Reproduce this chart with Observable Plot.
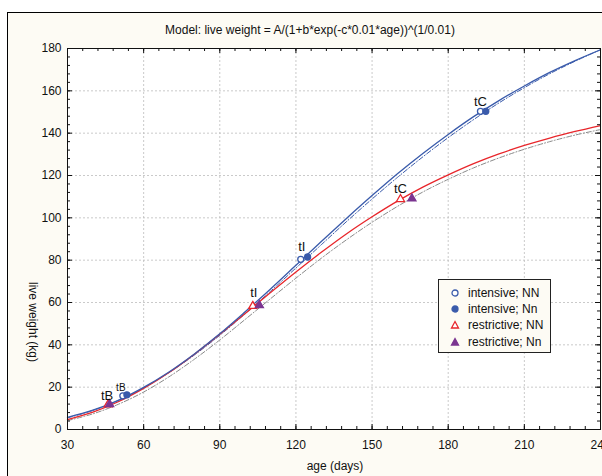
<!DOCTYPE html>
<html><head><meta charset="utf-8">
<script src="https://cdn.jsdelivr.net/npm/d3@7"></script>
<script src="https://cdn.jsdelivr.net/npm/@observablehq/plot@0.6"></script>
<style>
body{margin:0;background:#fff;font-family:"Liberation Sans",Arial,sans-serif;}
#wrap{position:relative;width:602px;height:476px;overflow:hidden;}
#panel{position:absolute;left:7px;top:12px;width:640px;height:500px;border:1px solid #000;background:#fdfbf4;box-sizing:border-box;}
#chart{position:absolute;left:0;top:0;}
.lab{position:absolute;font-size:12px;color:#111;white-space:nowrap;transform:translate(-50%,-50%);}
#legend{position:absolute;left:438px;top:279px;width:113px;height:74px;border:1px solid #222;background:#fdfbf4;box-sizing:border-box;font-size:12px;color:#111;}
#legend .row{position:absolute;left:0;width:110px;height:16px;line-height:16px;white-space:nowrap;}
#legend svg{position:absolute;left:11px;top:3px;}
#legend span{position:absolute;left:29px;top:0;white-space:nowrap;}
</style></head>
<body>
<div id="wrap">
  <div id="panel"></div>
  <div id="chart"></div>
  <div class="lab" id="title" style="left:310px;top:30px;">Model: live weight = A/(1+b*exp(-c*0.01*age))^(1/0.01)</div>
  <div class="lab" style="left:335px;top:466px;">age (days)</div>
  <div class="lab" style="left:33px;top:322px;transform:translate(-50%,-50%) rotate(90deg);">live weight (kg)</div>
  <div id="legend"></div>
</div>
<script>
// ---- data ----
const ages = [30,40,50,60,70,80,90,100,110,120,130,140,150,160,170,180,190,200,210,220,230,240];
const intensiveNN  = [5.7,9.1,13.8,19.9,27.2,35.7,45.2,55.6,66.4,77.6,88.8,99.8,110.5,120.8,130.4,139.4,147.8,155.4,162.3,168.7,174.3,179.4];
const intensiveNn  = [5.5,9.0,13.7,19.7,26.9,35.2,44.5,54.7,65.3,76.3,87.3,98.3,108.9,119.1,128.8,137.9,146.4,154.3,161.5,168.1,174.0,179.4];
const restrictiveNN= [4.7,8.2,13.1,19.4,26.9,35.6,45.0,54.8,64.7,74.4,83.7,92.5,100.5,107.9,114.5,120.3,125.6,130.2,134.2,137.7,140.8,143.6];
const restrictiveNn= [4.2,7.4,11.9,17.7,24.9,33.2,42.3,52.0,61.8,71.5,80.9,89.7,97.9,105.4,112.2,118.2,123.6,128.3,132.4,136.0,139.1,141.7];

const groups = ["intensive; NN","intensive; Nn","restrictive; NN","restrictive; Nn"];
const tbAge = [51.8, 53.4, 46.0, 46.6];
const tbWeight = [15.9, 16.4, 11.8, 11.9];
const tiAge = [121.9, 124.6, 103.0, 105.6];
const tiWeight = [80.4, 81.5, 58.3, 58.7];
const tcAge = [192.7, 194.8, 161.2, 165.7];
const tcWeight = [150.3, 150.3, 108.8, 109.1];

const xTicks = [30,60,90,120,150,180,210,240];
const yTicks = [0,20,40,60,80,100,120,140,160,180];

// ---- styles ----
const BLUE = "#3a5bab", RED = "#e8262b", PURPLE = "#7b3590", GRAY = "#8a8a8a";
const seriesStyle = {
  "intensive; NN":   {stroke: BLUE, dash: null, width: 1.3},
  "intensive; Nn":   {stroke: BLUE, dash: "5,2,1,2", width: 1},
  "restrictive; NN": {stroke: RED, dash: null, width: 1.3},
  "restrictive; Nn": {stroke: GRAY, dash: "5,2,1,2", width: 1}
};
const pointStyle = {
  "intensive; NN":   {symbol: "circle", fill: "white", stroke: BLUE},
  "intensive; Nn":   {symbol: "circle", fill: BLUE, stroke: BLUE},
  "restrictive; NN": {symbol: "triangle", fill: "white", stroke: RED},
  "restrictive; Nn": {symbol: "triangle", fill: PURPLE, stroke: PURPLE}
};

const seriesValues = [intensiveNN, intensiveNn, restrictiveNN, restrictiveNn];
const lineData = groups.flatMap((g, i) => ages.map((a, j) => ({group: g, age: a, w: seriesValues[i][j]})));
const pts = [];
groups.forEach((g, i) => {
  pts.push({group: g, kind: "tB", age: tbAge[i], w: tbWeight[i]});
  pts.push({group: g, kind: "tI", age: tiAge[i], w: tiWeight[i]});
  pts.push({group: g, kind: "tC", age: tcAge[i], w: tcWeight[i]});
});
const labels = [
  {age: tbAge[0], w: tbWeight[0], text: "tB", size: 10, dx: -2, dy: -8},
  {age: tbAge[2], w: tbWeight[2], text: "tB", size: 13, dx: -1, dy: -9},
  {age: tiAge[0], w: tiWeight[0], text: "tI", size: 13, dx: 1, dy: -12},
  {age: tiAge[2], w: tiWeight[2], text: "tI", size: 13, dx: 1, dy: -13},
  {age: tcAge[0], w: tcWeight[0], text: "tC", size: 13, dx: 0, dy: -10},
  {age: tcAge[2], w: tcWeight[2], text: "tC", size: 13, dx: 0, dy: -10}
];

const xMinor = d3.range(30, 240.001, 6);
const yMinor = d3.range(0, 180.001, 4);
const xGrid = xTicks.slice(1, -1);
const yGrid = yTicks.slice(1, -1);
const FH = 476 - 48 - 47, FW = 602 - 67 - 2;

const marks = [
  Plot.frame({fill: "white", stroke: null}),
  Plot.ruleX(xGrid, {x: d => d, stroke: "#bcbcbc", strokeDasharray: "2,2", strokeWidth: 0.8}),
  Plot.ruleY(yGrid, {y: d => d, stroke: "#bcbcbc", strokeDasharray: "2,2", strokeWidth: 0.8}),
];
["restrictive; Nn","intensive; Nn","restrictive; NN","intensive; NN"].forEach(g => {
  const s = seriesStyle[g];
  marks.push(Plot.line(lineData.filter(d => d.group === g), {x: "age", y: "w", stroke: s.stroke, strokeWidth: s.width, strokeDasharray: s.dash, curve: "catmull-rom"}));
});
groups.forEach(g => {
  const s = pointStyle[g];
  marks.push(Plot.dot(pts.filter(d => d.group === g), {x: "age", y: "w", symbol: s.symbol, r: 3, fill: s.fill, stroke: s.stroke, strokeWidth: 1.3}));
});
labels.forEach(l => {
  marks.push(Plot.text([l], {x: "age", y: "w", text: "text", fontSize: l.size, dx: l.dx, dy: l.dy, fill: "#111", fontFamily: "Liberation Sans, Arial, sans-serif"}));
});
marks.push(
  Plot.tickX(xMinor, {x: d => d, insetTop: FH - 3, stroke: "#111"}),
  Plot.tickX(xTicks, {x: d => d, insetTop: FH - 5, stroke: "#111"}),
  Plot.tickX(xMinor, {x: d => d, insetBottom: FH - 3, stroke: "#111"}),
  Plot.tickX(xTicks, {x: d => d, insetBottom: FH - 5, stroke: "#111"}),
  Plot.tickY(yMinor, {y: d => d, insetRight: FW - 3, stroke: "#111"}),
  Plot.tickY(yTicks, {y: d => d, insetRight: FW - 5, stroke: "#111"}),
  Plot.tickY(yMinor, {y: d => d, insetLeft: FW - 3, stroke: "#111"}),
  Plot.tickY(yTicks, {y: d => d, insetLeft: FW - 5, stroke: "#111"}),
  Plot.frame({stroke: "#111", strokeWidth: 1}),
  Plot.axisX(xTicks, {tickSize: 0, tickPadding: 11, fontSize: 12, label: null}),
  Plot.axisY(yTicks, {tickSize: 0, tickPadding: 6, fontSize: 12, label: null})
);

const chart = Plot.plot({
  width: 602, height: 476,
  marginLeft: 67, marginRight: 2, marginTop: 48, marginBottom: 47,
  x: {domain: [30, 240]},
  y: {domain: [0, 180]},
  style: {background: "transparent", fontFamily: "Liberation Sans, Arial, sans-serif", color: "#111", overflow: "visible"},
  marks
});
document.getElementById("chart").appendChild(chart);

// legend
const leg = document.getElementById("legend");
const rowTops = [5, 21, 37, 54];
groups.forEach((g, i) => {
  const s = pointStyle[g];
  const row = document.createElement("div");
  row.className = "row";
  row.style.top = rowTops[i] + "px";
  const sym = s.symbol === "circle"
    ? `<circle cx="5" cy="5" r="3" fill="${s.fill}" stroke="${s.stroke}" stroke-width="1.3"/>`
    : `<path d="M5,1.5 L8.5,8 L1.5,8 Z" fill="${s.fill}" stroke="${s.stroke}" stroke-width="1.3"/>`;
  row.innerHTML = `<svg width="10" height="10">${sym}</svg><span>${g}</span>`;
  leg.appendChild(row);
});
</script>
</body></html>
